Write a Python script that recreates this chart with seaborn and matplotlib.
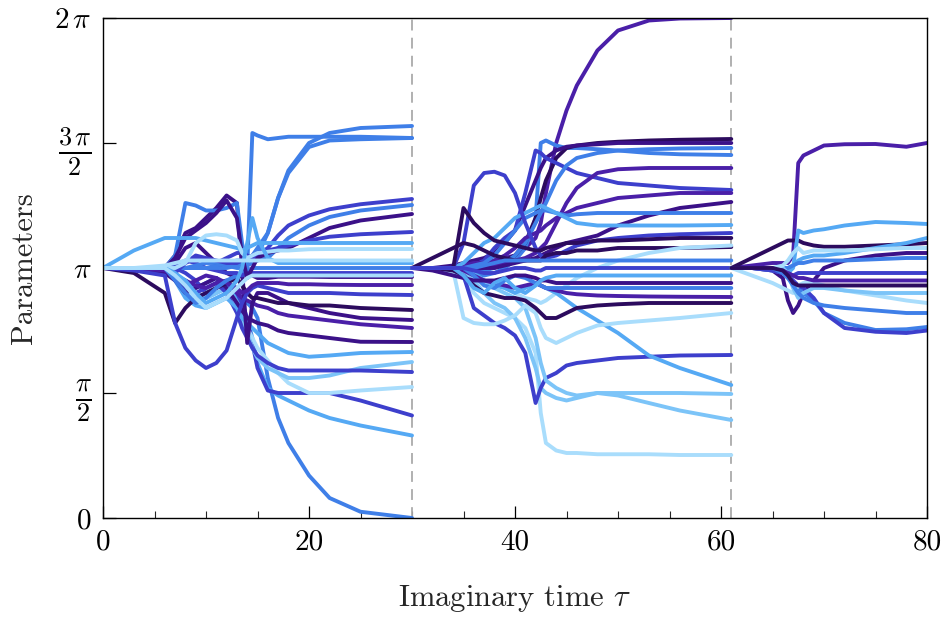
import numpy as np
import pandas as pd
import matplotlib
matplotlib.use("Agg")
import matplotlib.pyplot as plt
import seaborn as sns

# ---------------- data (values in units of pi) ----------------
seg1_tau = [0, 3, 6, 7, 8, 9, 10, 11, 12, 13, 13.5, 14, 14.5, 15, 16, 17, 18, 20, 22, 25, 30]
seg1_lines = {
    "a01": ("blue",   [1, 1, 0.99, 0.97, 0.95, 0.92, 0.94, 0.96, 0.93, 0.9, 0.88, 0.86, 0.84, 0.8, 0.56, 0.4, 0.3, 0.17, 0.08, 0.025, 0.0]),
    "a02": ("light",  [1, 1, 0.98, 0.96, 0.9, 0.86, 0.88, 0.9, 0.92, 0.88, 0.84, 0.8, 0.72, 0.62, 0.52, 0.49, 0.47, 0.43, 0.40, 0.37, 0.33]),
    "a03": ("indigo", [1, 1, 0.99, 1.0, 0.98, 0.95, 0.9, 0.92, 0.94, 0.9, 0.86, 0.8, 0.7, 0.6, 0.51, 0.5, 0.5, 0.5, 0.5, 0.47, 0.41]),
    "a04": ("pale",   [1, 1, 1.0, 0.98, 0.92, 0.88, 0.9, 0.93, 0.9, 0.84, 0.8, 0.76, 0.72, 0.68, 0.63, 0.58, 0.54, 0.5, 0.5, 0.51, 0.524]),
    "a05": ("sky",    [1, 1, 1.0, 0.97, 0.94, 0.9, 0.88, 0.9, 0.92, 0.86, 0.8, 0.74, 0.68, 0.64, 0.6, 0.58, 0.56, 0.56, 0.57, 0.6, 0.624]),
    "a06": ("indigo", [1, 1, 0.99, 0.96, 0.92, 0.9, 0.92, 0.94, 0.9, 0.82, 0.76, 0.72, 0.68, 0.65, 0.62, 0.6, 0.59, 0.59, 0.59, 0.59, 0.584]),
    "a07": ("light",  [1, 1, 1, 0.95, 0.88, 0.85, 0.84, 0.86, 0.88, 0.84, 0.8, 0.78, 0.76, 0.74, 0.7, 0.68, 0.66, 0.645, 0.65, 0.66, 0.664]),
    "a08": ("dark",   [1, 1, 0.98, 0.95, 0.9, 0.92, 0.94, 0.96, 0.92, 0.86, 0.83, 0.8, 0.79, 0.78, 0.77, 0.75, 0.74, 0.73, 0.72, 0.705, 0.704]),
    "a09": ("purple", [1, 1, 0.99, 0.97, 0.95, 0.93, 0.92, 0.94, 0.95, 0.9, 0.88, 0.87, 0.86, 0.85, 0.84, 0.82, 0.81, 0.8, 0.79, 0.775, 0.76]),
    "a10": ("dark",   [1, 1, 1.0, 1.05, 1.14, 1.16, 1.2, 1.24, 1.29, 1.26, 1.0, 0.7, 0.86, 0.9, 0.9, 0.88, 0.86, 0.84, 0.82, 0.8, 0.792]),
    "a11": ("darkest",[1, 0.98, 0.9, 0.78, 0.84, 0.88, 0.9, 0.92, 0.94, 0.96, 0.93, 0.9, 0.88, 0.88, 0.87, 0.86, 0.86, 0.85, 0.85, 0.84, 0.832]),
    "a12": ("indigo", [1, 0.99, 0.97, 0.78, 0.68, 0.63, 0.6, 0.62, 0.67, 0.8, 0.86, 0.9, 0.92, 0.93, 0.92, 0.91, 0.9, 0.9, 0.9, 0.895, 0.892]),
    "a13": ("purple", [1, 1, 1, 0.98, 0.93, 0.95, 0.97, 0.96, 0.94, 0.92, 0.9, 0.91, 0.93, 0.94, 0.94, 0.94, 0.935, 0.935, 0.933, 0.932, 0.932]),
    "a14": ("dark",   [1, 1, 1, 1.02, 1.08, 1.1, 1.06, 1.02, 0.98, 0.96, 0.97, 0.98, 0.97, 0.96, 0.96, 0.965, 0.965, 0.965, 0.964, 0.964, 0.964]),
    "a15": ("blue",   [1, 1, 1, 0.95, 0.9, 0.86, 0.88, 0.92, 0.95, 0.97, 0.98, 0.99, 1, 1, 1, 1, 1, 1, 1, 1, 1]),
    "a16": ("indigo", [1, 1, 1, 1.01, 1.03, 1.02, 1.0, 0.99, 0.98, 0.98, 0.97, 0.98, 0.98, 0.98, 0.98, 0.98, 0.98, 0.98, 0.98, 0.98, 0.98]),
    "a17": ("blue",   [1, 1, 1, 1, 1, 1, 1, 1.01, 1.02, 1.03, 1.03, 1.04, 1.04, 1.05, 1.14, 1.28, 1.39, 1.5, 1.54, 1.56, 1.568]),
    "a18": ("blue",   [1, 1, 1.0, 1.05, 1.26, 1.25, 1.23, 1.23, 1.24, 1.26, 1.1, 1.0, 1.54, 1.53, 1.515, 1.52, 1.525, 1.525, 1.525, 1.525, 1.52]),
    "a19": ("blue",   [1, 1, 1, 1, 1, 1, 1, 1, 1, 1.01, 1.02, 1.03, 1.05, 1.08, 1.14, 1.28, 1.38, 1.484, 1.51, 1.515, 1.52]),
    "a20": ("indigo", [1, 1, 1, 1.0, 1.02, 1.04, 1.03, 1.02, 1.04, 1.06, 1.06, 1.05, 1.04, 1.05, 1.08, 1.13, 1.17, 1.21, 1.235, 1.255, 1.276]),
    "a21": ("blue",   [1, 1, 1, 1, 1, 1.01, 1.02, 1.02, 1.01, 1.0, 1.0, 1.01, 1.02, 1.03, 1.04, 1.08, 1.12, 1.17, 1.204, 1.23, 1.252]),
    "a22": ("dark",   [1, 1, 1.0, 1.04, 1.12, 1.15, 1.18, 1.22, 1.27, 1.2, 1.05, 0.96, 1.0, 1.04, 1.06, 1.07, 1.08, 1.12, 1.16, 1.19, 1.216]),
    "a23": ("indigo", [1, 1, 1, 0.98, 1.02, 1.05, 1.04, 1.03, 1.02, 1.02, 1.03, 1.04, 1.05, 1.06, 1.07, 1.08, 1.09, 1.11, 1.125, 1.135, 1.144]),
    "a24": ("light",  [1, 1.07, 1.12, 1.12, 1.12, 1.12, 1.11, 1.1, 1.09, 1.08, 1.07, 1.08, 1.09, 1.1, 1.1, 1.1, 1.1, 1.1, 1.1, 1.1, 1.1]),
    "a25": ("pale",   [1, 1, 1, 1.0, 1.02, 1.1, 1.13, 1.135, 1.13, 1.11, 1.06, 1.04, 1.05, 1.06, 1.065, 1.07, 1.07, 1.075, 1.076, 1.076, 1.076]),
    "a26": ("light",  [1, 1, 1, 0.98, 0.95, 0.9, 0.86, 0.88, 0.9, 0.95, 1.0, 1.1, 1.2, 1.12, 1.04, 1.02, 1.02, 1.02, 1.02, 1.02, 1.02]),
    "a27": ("pale",   [1, 1, 1, 0.97, 0.93, 0.88, 0.84, 0.86, 0.88, 0.92, 0.94, 0.96, 0.97, 0.97, 0.97, 0.97, 0.97, 0.97, 0.97, 0.97, 0.97]),
    "a28": ("pale",   [1, 1.0, 1.01, 1.02, 1.03, 1.03, 1.03, 1.03, 1.03, 1.03, 1.03, 1.03, 1.03, 1.03, 1.03, 1.03, 1.03, 1.03, 1.03, 1.03, 1.03]),
}

seg2_tau = [30, 32, 34, 35, 36, 37, 38, 39, 40, 41, 42, 42.5, 43, 44, 45, 46, 48, 50, 53, 56, 61]
seg2_lines = {
    "b01": ("purple", [1, 1, 1.0, 1.0, 1.01, 1.02, 1.03, 1.04, 1.05, 1.08, 1.12, 1.18, 1.3, 1.5, 1.63, 1.73, 1.87, 1.95, 1.99, 1.998, 2.0]),
    "b02": ("blue",   [1, 1, 1, 0.99, 0.98, 0.97, 0.98, 1.0, 1.03, 1.08, 1.2, 1.5, 1.51, 1.49, 1.48, 1.48, 1.475, 1.47, 1.46, 1.455, 1.452]),
    "b03": ("darkest",[1, 1, 1, 1, 1.01, 1.02, 1.02, 1.03, 1.05, 1.1, 1.2, 1.28, 1.35, 1.44, 1.48, 1.49, 1.5, 1.505, 1.51, 1.513, 1.516]),
    "b04": ("dark",   [1, 1, 1.01, 1.02, 1.03, 1.04, 1.06, 1.1, 1.15, 1.25, 1.35, 1.4, 1.44, 1.47, 1.485, 1.49, 1.495, 1.5, 1.5, 1.5, 1.5]),
    "b05": ("indigo", [1, 1, 1, 1.0, 1.01, 1.03, 1.08, 1.12, 1.15, 1.3, 1.47, 1.46, 1.44, 1.42, 1.4, 1.38, 1.36, 1.34, 1.33, 1.32, 1.312]),
    "b06": ("blue",   [1, 1, 1, 1, 1, 0.99, 1.0, 1.02, 1.05, 1.1, 1.18, 1.22, 1.26, 1.35, 1.41, 1.44, 1.46, 1.47, 1.475, 1.478, 1.48]),
    "b07": ("purple", [1, 1, 1, 1, 1, 1, 1.01, 1.02, 1.03, 1.04, 1.06, 1.08, 1.1, 1.18, 1.26, 1.32, 1.38, 1.395, 1.4, 1.4, 1.4]),
    "b08": ("purple", [1, 1, 1, 1.01, 1.02, 1.02, 1.03, 1.05, 1.08, 1.12, 1.14, 1.15, 1.17, 1.2, 1.22, 1.24, 1.26, 1.28, 1.29, 1.3, 1.3]),
    "b09": ("dark",   [1, 1, 1, 1, 1, 1, 1, 1.01, 1.02, 1.03, 1.04, 1.05, 1.06, 1.08, 1.1, 1.11, 1.13, 1.17, 1.21, 1.24, 1.264]),
    "b10": ("blue",   [1, 1, 1, 1, 1.01, 1.02, 1.05, 1.1, 1.15, 1.2, 1.22, 1.23, 1.23, 1.22, 1.21, 1.215, 1.22, 1.22, 1.22, 1.22, 1.22]),
    "b11": ("light",  [1, 1, 1, 1.02, 1.06, 1.1, 1.12, 1.16, 1.2, 1.22, 1.24, 1.25, 1.24, 1.22, 1.2, 1.18, 1.17, 1.17, 1.17, 1.17, 1.172]),
    "b12": ("indigo", [1, 1, 1, 1.1, 1.33, 1.38, 1.385, 1.37, 1.3, 1.18, 1.08, 1.05, 1.04, 1.05, 1.07, 1.09, 1.11, 1.12, 1.13, 1.135, 1.14]),
    "b13": ("darkest",[1, 1.0, 1.0, 1.24, 1.18, 1.14, 1.11, 1.1, 1.09, 1.08, 1.07, 1.07, 1.08, 1.09, 1.1, 1.1, 1.11, 1.11, 1.115, 1.12, 1.12]),
    "b14": ("darkest",[1, 1.04, 1.08, 1.1, 1.09, 1.07, 1.05, 1.04, 1.03, 1.03, 1.03, 1.03, 1.05, 1.06, 1.06, 1.07, 1.07, 1.08, 1.08, 1.08, 1.084]),
    "b15": ("pale",   [1, 1, 1, 0.99, 0.97, 0.95, 0.93, 0.92, 0.9, 0.88, 0.87, 0.86, 0.87, 0.9, 0.93, 0.96, 1.0, 1.03, 1.06, 1.08, 1.09]),
    "b16": ("blue",   [1, 1, 1, 1, 1, 1.01, 1.02, 1.03, 1.03, 1.03, 1.03, 1.03, 1.03, 1.03, 1.03, 1.03, 1.03, 1.03, 1.03, 1.03, 1.03]),
    "b17": ("pale",   [1, 1, 0.98, 0.96, 0.9, 0.86, 0.84, 0.82, 0.8, 0.76, 0.66, 0.42, 0.3, 0.27, 0.26, 0.26, 0.255, 0.255, 0.255, 0.252, 0.252]),
    "b18": ("sky",    [1, 1, 1, 0.98, 0.95, 0.9, 0.86, 0.84, 0.8, 0.72, 0.6, 0.52, 0.5, 0.48, 0.47, 0.48, 0.5, 0.5, 0.5, 0.5, 0.496]),
    "b19": ("indigo", [1, 1, 1, 0.97, 0.84, 0.81, 0.78, 0.76, 0.73, 0.66, 0.46, 0.52, 0.56, 0.58, 0.61, 0.62, 0.63, 0.64, 0.645, 0.65, 0.652]),
    "b20": ("light",  [1, 1, 1, 1, 0.98, 0.95, 0.93, 0.92, 0.9, 0.92, 0.94, 0.93, 0.92, 0.9, 0.87, 0.84, 0.79, 0.74, 0.65, 0.6, 0.532]),
    "b21": ("sky",    [1, 1, 0.99, 0.98, 0.96, 0.94, 0.92, 0.9, 0.88, 0.84, 0.72, 0.62, 0.55, 0.52, 0.5, 0.49, 0.5, 0.49, 0.46, 0.43, 0.392]),
    "b22": ("pale",   [1, 1, 0.99, 0.8, 0.78, 0.775, 0.775, 0.79, 0.81, 0.85, 0.82, 0.76, 0.72, 0.7, 0.72, 0.74, 0.77, 0.78, 0.79, 0.8, 0.82]),
    "b23": ("darkest",[1, 1, 0.99, 0.97, 0.93, 0.9, 0.89, 0.88, 0.88, 0.87, 0.84, 0.82, 0.8, 0.8, 0.82, 0.84, 0.85, 0.855, 0.86, 0.86, 0.86]),
    "b24": ("purple", [1, 1, 1, 0.99, 0.97, 0.95, 0.94, 0.93, 0.92, 0.93, 0.94, 0.93, 0.92, 0.91, 0.9, 0.895, 0.89, 0.888, 0.886, 0.885, 0.884]),
    "b25": ("blue",   [1, 1, 1, 1, 0.97, 0.93, 0.92, 0.95, 0.97, 0.96, 0.94, 0.93, 0.92, 0.92, 0.92, 0.92, 0.92, 0.92, 0.92, 0.92, 0.92]),
    "b26": ("dark",   [1, 0.99, 0.97, 0.96, 0.95, 0.95, 0.95, 0.96, 0.97, 0.97, 0.96, 0.95, 0.95, 0.94, 0.94, 0.94, 0.94, 0.94, 0.94, 0.94, 0.94]),
    "b27": ("light",  [1, 1, 1, 0.97, 0.92, 0.9, 0.94, 0.96, 0.92, 0.9, 0.93, 0.95, 0.96, 0.97, 0.97, 0.97, 0.97, 0.97, 0.97, 0.97, 0.97]),
    "b28": ("indigo", [1, 1, 1, 1, 0.99, 0.98, 0.98, 0.99, 1, 1, 0.99, 0.99, 1, 1, 1, 1, 1, 1, 1, 1, 1]),
}

seg3_tau = [61, 63, 65, 66, 66.5, 67, 67.5, 68, 69, 70, 72, 75, 78, 80]
seg3_lines = {
    "c01": ("purple", [1, 1.01, 1.02, 1.02, 1.02, 1.05, 1.42, 1.45, 1.47, 1.49, 1.495, 1.496, 1.485, 1.5]),
    "c02": ("darkest",[1, 1.04, 1.08, 1.1, 1.11, 1.11, 1.11, 1.1, 1.09, 1.085, 1.085, 1.09, 1.095, 1.1]),
    "c03": ("light",  [1, 1, 1, 1.0, 0.98, 1.0, 1.15, 1.14, 1.15, 1.155, 1.17, 1.184, 1.18, 1.176]),
    "c04": ("dark",   [1, 1, 0.99, 0.96, 0.87, 0.82, 0.85, 0.9, 0.95, 1.0, 1.03, 1.05, 1.06, 1.06]),
    "c05": ("blue",   [1, 1, 0.99, 0.98, 0.96, 0.94, 0.92, 0.9, 0.87, 0.82, 0.78, 0.752, 0.755, 0.764]),
    "c06": ("indigo", [1, 1, 0.99, 0.98, 0.97, 0.95, 0.93, 0.92, 0.88, 0.82, 0.76, 0.745, 0.74, 0.75]),
    "c07": ("pale",   [1, 0.97, 0.94, 0.92, 0.91, 0.9, 0.93, 0.94, 0.94, 0.93, 0.91, 0.89, 0.87, 0.86]),
    "c08": ("light",  [1, 1, 1, 1, 1.0, 1.01, 1.03, 1.04, 1.05, 1.05, 1.06, 1.08, 1.1, 1.12]),
    "c09": ("blue",   [1, 1, 1, 1, 1.0, 1.01, 1.02, 1.02, 1.03, 1.03, 1.03, 1.035, 1.04, 1.04]),
    "c10": ("indigo", [1, 1, 1, 0.99, 0.98, 0.97, 0.98, 0.98, 0.98, 0.98, 0.98, 0.98, 0.98, 0.98]),
    "c11": ("sky",    [1, 1, 1, 1, 0.98, 0.92, 0.88, 0.9, 0.92, 0.92, 0.91, 0.9, 0.9, 0.9]),
    "c12": ("purple", [1, 1, 1, 0.99, 0.98, 0.97, 0.96, 0.96, 0.95, 0.95, 0.95, 0.95, 0.95, 0.95]),
    "c13": ("pale",   [1, 1, 1, 1.01, 1.03, 1.06, 1.08, 1.06, 1.07, 1.07, 1.07, 1.075, 1.08, 1.08]),
    "c14": ("blue",   [1, 1, 1, 0.98, 0.96, 0.93, 0.9, 0.88, 0.86, 0.85, 0.84, 0.83, 0.82, 0.82]),
    "c15": ("darkest",[1, 1, 1, 0.99, 0.97, 0.94, 0.93, 0.93, 0.93, 0.93, 0.93, 0.93, 0.93, 0.93]),
}

segment_breaks = [30, 61]
ytick_vals = [0, 0.5, 1.0, 1.5, 2.0]
ytick_labels = [r"$0$", r"$\frac{\pi}{2}$", r"$\pi$", r"$\frac{3\,\pi}{2}$", r"$2\,\pi$"]
xtick_major = [0, 20, 40, 60, 80]

colors = {
    "darkest": "#2c0b5e",
    "dark": "#3b1188",
    "purple": "#4a1fa8",
    "indigo": "#3d3fcc",
    "blue": "#3f7fe8",
    "light": "#55a9f4",
    "sky": "#7cc4f8",
    "pale": "#a9ddfc",
}

# ---------------- build long-form data ----------------
rows = []
palette = {}
for tau, lines in [(seg1_tau, seg1_lines), (seg2_tau, seg2_lines), (seg3_tau, seg3_lines)]:
    for name, (cname, vals) in lines.items():
        palette[name] = colors[cname]
        for t, v in zip(tau, vals):
            rows.append({"tau": t, "value": v * np.pi, "line": name})
df = pd.DataFrame(rows)

# ---------------- plotting ----------------
sns.set_theme(style="white")
plt.rcParams["font.family"] = "serif"
plt.rcParams["font.serif"] = ["cmr10", "DejaVu Serif"]
plt.rcParams["mathtext.fontset"] = "cm"
plt.rcParams["axes.formatter.use_mathtext"] = True

fig = plt.figure(figsize=(9.44, 6.18), dpi=100)
ax = fig.add_axes([103 / 944, 1 - 518 / 618, (927 - 103) / 944, 500 / 618])

for b in segment_breaks:
    ax.axvline(b, color="#aaaaaa", lw=1.3, ls=(0, (6, 4)), zorder=1)

sns.lineplot(data=df, x="tau", y="value", hue="line", palette=palette,
             estimator=None, sort=False, legend=False, lw=2.8, ax=ax, zorder=2)
for ln in ax.get_lines():
    ln.set_solid_joinstyle("round")
    ln.set_solid_capstyle("round")

ax.set_xlim(0, 80)
ax.set_ylim(0, 2 * np.pi)
ax.set_yticks([v * np.pi for v in ytick_vals])
ax.set_yticklabels(ytick_labels)
ax.set_xticks(xtick_major)
ax.set_xticklabels([str(v) for v in xtick_major])
ax.set_xticks(np.arange(0, 81, 5), minor=True)
ax.tick_params(axis="both", which="major", direction="in", length=9, width=0.9,
               labelsize=21, colors="black", bottom=True, left=True, pad=8)
ax.tick_params(axis="x", which="minor", direction="in", length=5, width=0.8, bottom=True)
for lbl in ax.get_yticklabels():
    if "frac" in lbl.get_text():
        lbl.set_fontsize(27)
for s in ax.spines.values():
    s.set_color("black")
    s.set_linewidth(1.0)

ax.set_xlabel(r"Imaginary time $\tau$", fontsize=22, labelpad=20)
ax.set_ylabel("Parameters", fontsize=22, labelpad=12)

fig.savefig("out.png", dpi=100)
